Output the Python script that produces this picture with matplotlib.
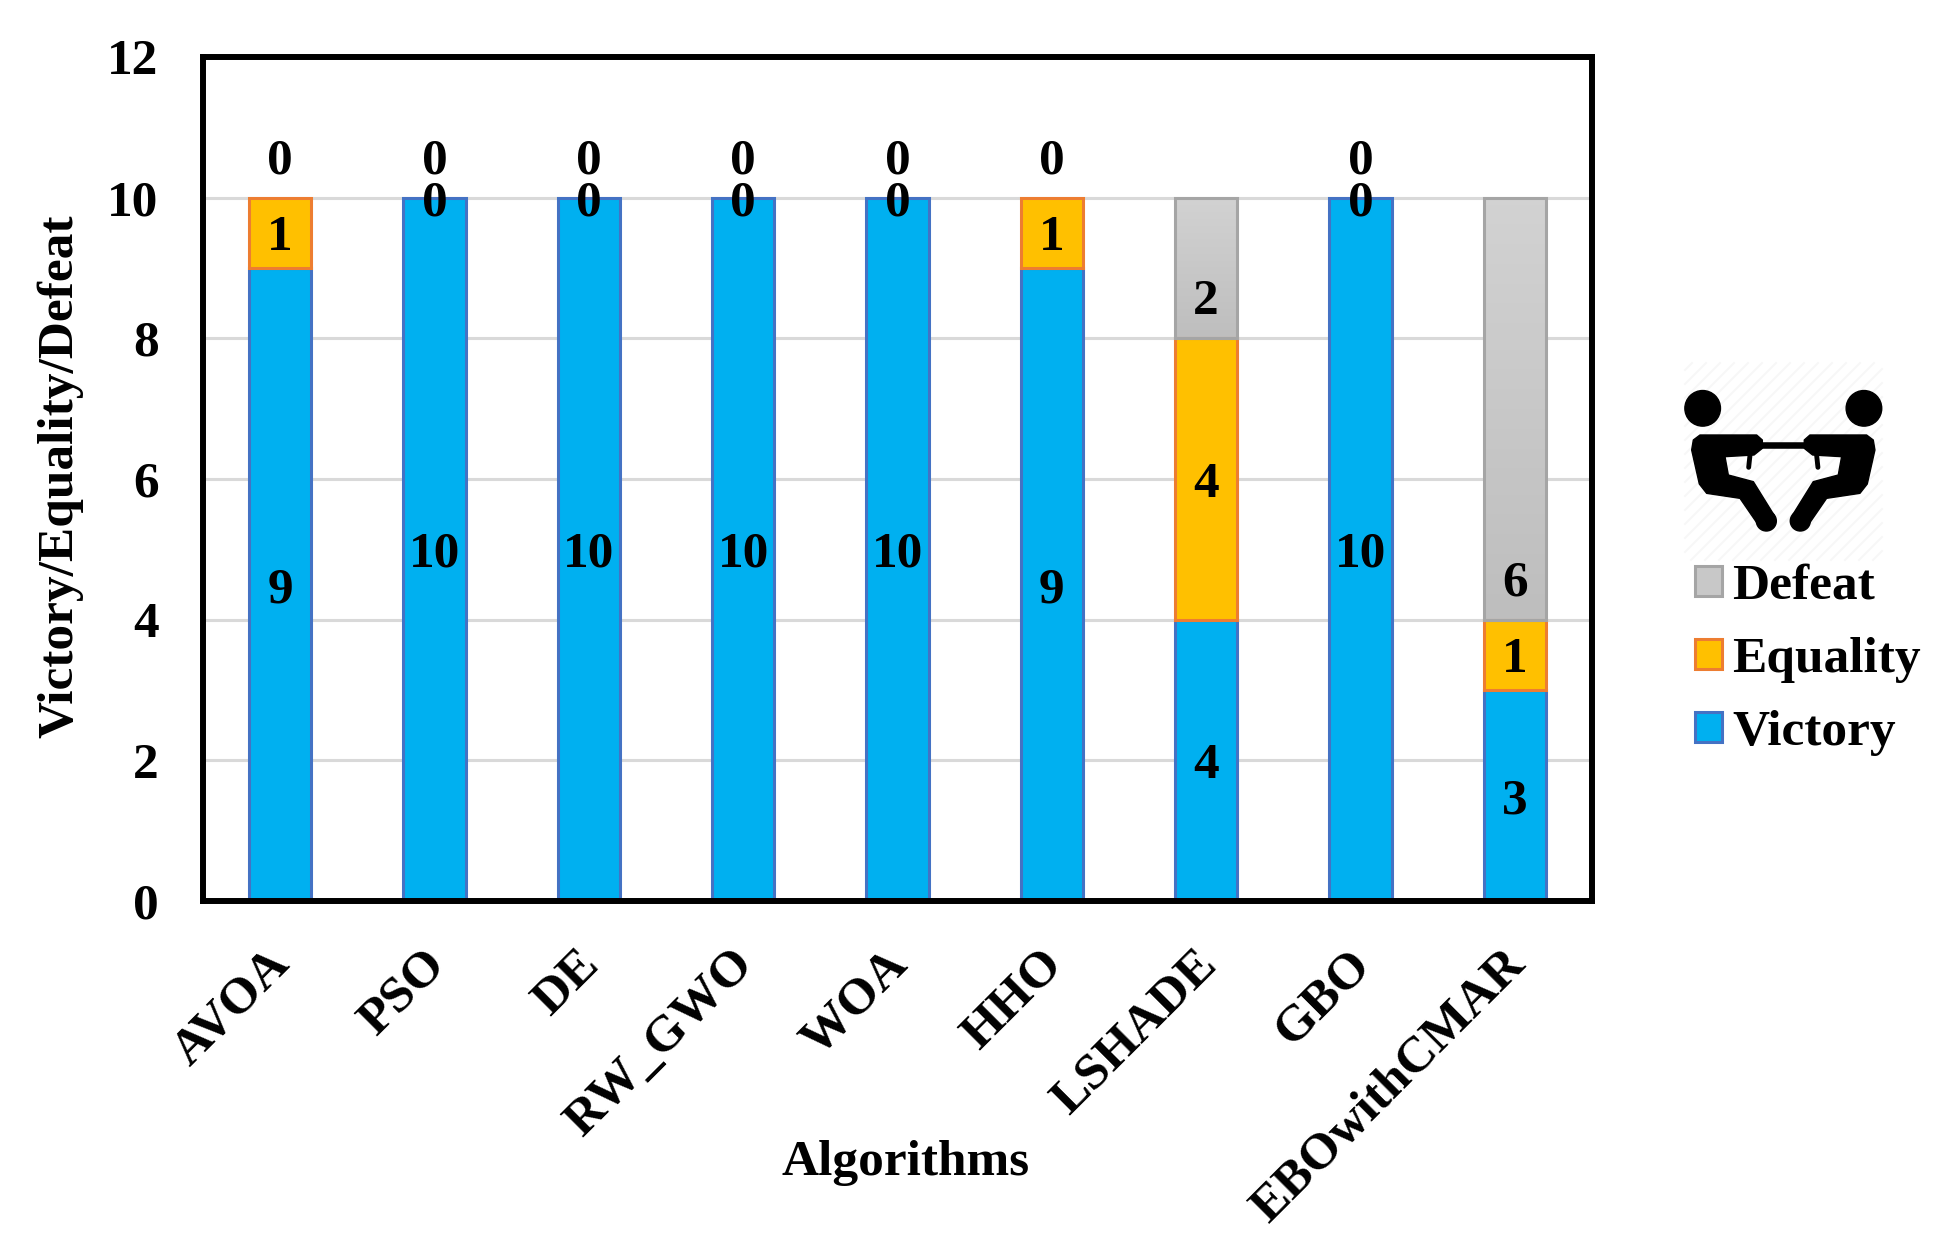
import numpy as np
import matplotlib
matplotlib.use("Agg")
import matplotlib.pyplot as plt
from matplotlib.patches import Circle, Polygon, Patch
from matplotlib.transforms import ScaledTranslation

W, H = 1952, 1258

algorithms = ["AVOA", "PSO", "DE", "RW_GWO", "WOA", "HHO", "LSHADE", "GBO", "EBOwithCMAR"]
victory = [9, 10, 10, 10, 10, 9, 4, 10, 3]
equality = [1, 0, 0, 0, 0, 1, 4, 0, 1]
defeat = [0, 0, 0, 0, 0, 0, 2, 0, 6]
y_ticks = [0, 2, 4, 6, 8, 10, 12]

plt.rcParams['font.family'] = ['Liberation Serif', 'DejaVu Serif']
plt.rcParams['font.weight'] = 'bold'

fig = plt.figure(figsize=(W / 100, H / 100), dpi=100)
ax = fig.add_axes([203 / W, 1 - 901 / H, 1389 / W, 844 / H])

x = np.arange(len(algorithms))
v = np.array(victory)
e = np.array(equality)
d = np.array(defeat)
bw = 0.405
fs = 37

b1 = ax.bar(x, v, bw, color='#00B0F0', edgecolor='#4472C4', linewidth=2.2, zorder=3)
b2 = ax.bar(x, e, bw, bottom=v, color='#FFC000', edgecolor='#ED7D31', linewidth=2.2, zorder=3)
b3 = ax.bar(x, d, bw, bottom=v + e, color='none', edgecolor='#A5A5A5', linewidth=2.2, zorder=4)

# zero height bars would leave a coloured line on top of the stack
for bars in (b2, b3):
    for p in bars:
        if p.get_height() == 0:
            p.set_visible(False)

# defeat bars have a soft vertical gradient
grad = np.linspace(0, 1, 64).reshape(-1, 1)
cmap = matplotlib.colors.LinearSegmentedColormap.from_list('g', ['#D2D2D2', '#BEBEBE'])
for p in b3:
    if p.get_height() > 0:
        ax.imshow(grad, cmap=cmap, aspect='auto', zorder=2.9,
                  extent=[p.get_x(), p.get_x() + p.get_width(),
                          p.get_y(), p.get_y() + p.get_height()], origin='upper')

ax.set_xlim(-0.5, len(algorithms) - 0.5)
ax.set_ylim(0, 12)
ax.set_yticks(y_ticks)
ax.set_xticks(x)
ax.set_xticklabels(algorithms, rotation=45, ha='right', rotation_mode='anchor')
ax.tick_params(axis='both', length=0, labelsize=fs)
ax.tick_params(axis='y', pad=32)
ax.tick_params(axis='x', pad=29)
shift = ScaledTranslation(-13 / 100, 0, fig.dpi_scale_trans)
for lab in ax.get_xticklabels():
    lab.set_transform(lab.get_transform() + shift)
ax.grid(axis='y', color='#D9D9D9', linewidth=2.2, zorder=0)
ax.set_axisbelow(True)
for s in ax.spines.values():
    s.set_linewidth(4.3)
    s.set_color('black')
    s.set_zorder(6)


def put_label(xpos, ypos, val):
    ax.annotate(str(val), (xpos, ypos), xytext=(0, -4), textcoords='offset points',
                ha='center', va='center', fontsize=fs, zorder=5)


# data labels: victory and equality centred, defeat just inside the base
for i in x:
    put_label(i, v[i] / 2, v[i])
    put_label(i, v[i] + e[i] / 2, e[i])
    put_label(i, v[i] + e[i] + 0.59, d[i])

fig.text(906 / W, 1 - 1163 / H, "Algorithms", ha='center', va='center', fontsize=fs)
fig.text(60 / W, 1 - 476 / H, "Victory/Equality/Defeat", ha='center', va='center',
         rotation=90, fontsize=fs)

handles = [Patch(facecolor='#C8C8C8', edgecolor='#A5A5A5', linewidth=2.2),
           Patch(facecolor='#FFC000', edgecolor='#ED7D31', linewidth=2.2),
           Patch(facecolor='#00B0F0', edgecolor='#4472C4', linewidth=2.2)]
fig.legend(handles, ["Defeat", "Equality", "Victory"], loc='center left',
           bbox_to_anchor=(1695 / W, 1 - 660 / H), frameon=False, fontsize=fs,
           handlelength=0.52, handleheight=0.52, handletextpad=0.21, labelspacing=0.53,
           borderpad=0, borderaxespad=0)

# tug of war pictogram, overlay axes in picture pixels
ic = fig.add_axes([0, 0, 1, 1], facecolor='none')
ic.set_xlim(0, W)
ic.set_ylim(H, 0)
ic.axis('off')
for k in np.arange(-190, 200, 14):
    x0 = max(1685, 1685 + k)
    y0 = 560 if k >= 0 else 560 + k
    run = min(1882 - x0, y0 - 363)
    ic.plot([x0, x0 + run], [y0, y0 - run], color='#F7F7F7', lw=1.5, zorder=1)


def ix(zx, side):
    px = 1650 + zx / 3
    return px if side < 0 else 2 * 1783.3 - px


def iy(zy):
    return 340 + zy / 3


outline = [(150, 285), (320, 285), (337, 300), (337, 325), (312, 345), (225, 350), (235, 405),
           (310, 425), (372, 525), (325, 555), (270, 475), (170, 460),
           (148, 432), (125, 330), (130, 300)]
for side in (-1, 1):
    ic.add_patch(Circle((ix(158, side), iy(205)), 17.8, color='black', zorder=2))
    ic.add_patch(Polygon([(ix(a, side), iy(b)) for a, b in outline], closed=True, color='black',
                         joinstyle='round', zorder=2))
    ic.add_patch(Circle((ix(349, side), iy(543)), 10, color='black', zorder=2))
    ic.plot([ix(300, side), ix(296, side)], [iy(345), iy(382)], color='black', lw=3.5,
            solid_capstyle='round', zorder=2)
ic.plot([ix(335, -1), ix(335, 1)], [iy(315), iy(315)], color='black', lw=4.7, zorder=2)

fig.savefig("out.png", dpi=100)
